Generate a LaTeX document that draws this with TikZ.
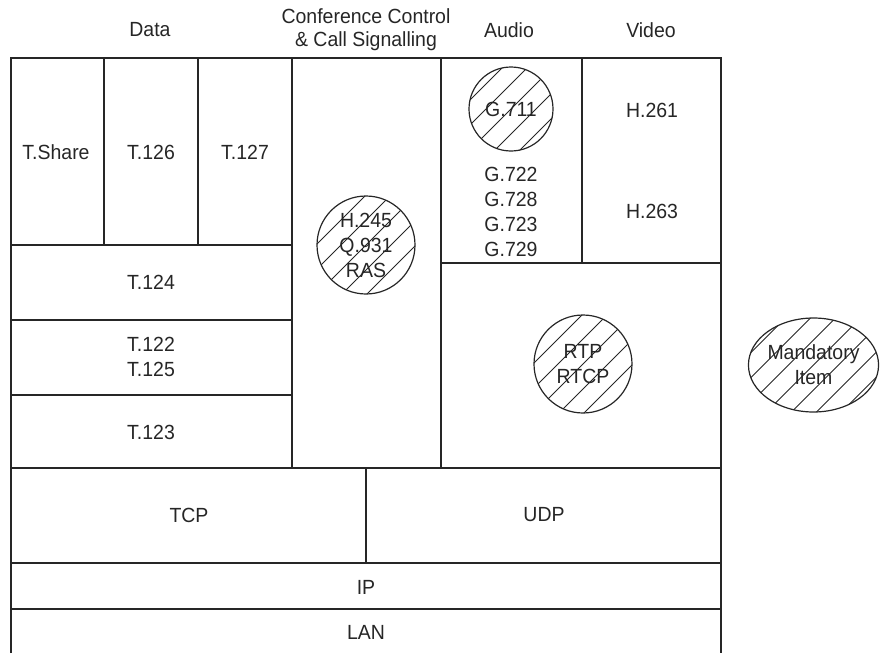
\documentclass[tikz,border=0pt]{standalone}
\usepackage{fontspec}
\setmainfont{Liberation Sans}[FakeStretch=0.95]
\usetikzlibrary{shapes.geometric}
\definecolor{ink}{HTML}{262626}
\tikzset{
  grid/.style={draw=ink, line width=1.6pt},
  lbl/.style={text=ink, font=\fontsize{20.5}{25}\selectfont, align=center, inner sep=0pt},
  head/.style={text=ink, font=\fontsize{20.5}{23}\selectfont, align=center, inner sep=0pt},
  hatch/.style={draw=ink, line width=1.2pt, text=ink, font=\fontsize{20.5}{25}\selectfont, align=center, inner sep=0pt,
    path picture={
      \foreach \k in {-5,...,5}{
        \draw[ink, line width=0.75pt]
          ([shift={(\k*25pt-75pt,-75pt)}]path picture bounding box.center) -- ++(150pt,150pt);
      }
    }}
}
\begin{document}
\begin{tikzpicture}[x=1pt,y=-1pt]
\useasboundingbox (0,0) rectangle (880,653);
% frame and grid
\draw[grid] (11,653) -- (11,58) -- (721,58) -- (721,653);
\draw[grid] (104,58) -- (104,245);
\draw[grid] (198,58) -- (198,245);
\draw[grid] (292,58) -- (292,468);
\draw[grid] (441,58) -- (441,468);
\draw[grid] (582,58) -- (582,263);
\draw[grid] (11,245) -- (292,245);
\draw[grid] (11,320) -- (292,320);
\draw[grid] (11,395) -- (292,395);
\draw[grid] (441,263) -- (721,263);
\draw[grid] (11,468) -- (721,468);
\draw[grid] (366,468) -- (366,563);
\draw[grid] (11,563) -- (721,563);
\draw[grid] (11,609) -- (721,609);
% headers
\node[head] (hdata) at (150,30) {Data};
\node[head] (hconf) at (366,30) {Conference Control\\\& Call Signalling};
\node[head] (haudio) at (509,30) {Audio};
\node[head] (hvideo) at (651,30) {Video};
% data column
\node[lbl] (tshare) at (56,152) {T.Share};
\node[lbl] (t126) at (151,152) {T.126};
\node[lbl] (t127) at (245,152) {T.127};
\node[lbl] (t124) at (151,282) {T.124};
\node[lbl] (t122) at (151,357) {T.122\\T.125};
\node[lbl] (t123) at (151,432) {T.123};
% control
\node[hatch, circle, minimum size=98pt] (h245) at (366,245) {H.245\\Q.931\\RAS};
% audio
\node[hatch, circle, minimum size=84pt] (g711) at (511,109) {G.711};
\node[lbl] (gcodec) at (511,212) {G.722\\G.728\\G.723\\G.729};
% video
\node[lbl] (h261) at (652,110) {H.261};
\node[lbl] (h263) at (652,211) {H.263};
% rtp
\node[hatch, circle, minimum size=98pt] (rtp) at (583,364) {RTP\\RTCP};
% legend
\node[hatch, ellipse, minimum width=129pt, minimum height=94pt] (mand) at (813.5,365) {Mandatory\\Item};
% transport
\node[lbl] (tcp) at (189,515) {TCP};
\node[lbl] (udp) at (544,515) {UDP};
\node[lbl] (ip) at (366,587) {IP};
\node[lbl] (lan) at (366,632) {LAN};
\end{tikzpicture}
\end{document}
